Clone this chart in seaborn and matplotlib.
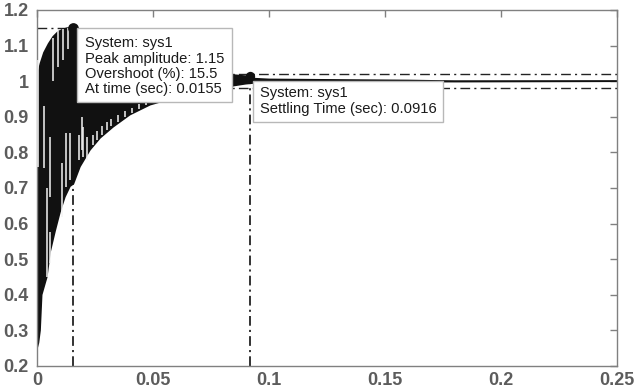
import numpy as np
import matplotlib
matplotlib.use("Agg")
import matplotlib.pyplot as plt
import pandas as pd
import seaborn as sns
from matplotlib.patches import Rectangle

# Upper and lower envelope of the oscillating step response (time in s)
upper_t = [0.0, 0.0004, 0.0015, 0.003, 0.005, 0.007, 0.009, 0.011, 0.013, 0.0155,
           0.017, 0.020, 0.030, 0.045, 0.060, 0.075, 0.085, 0.090, 0.0916, 0.094,
           0.100, 0.120, 0.160, 0.180, 0.250]
upper_v = [0.26, 1.02, 1.05, 1.08, 1.105, 1.125, 1.138, 1.145, 1.149, 1.15,
           1.148, 1.13, 1.09, 1.05, 1.03, 1.02, 1.017, 1.014, 1.017, 1.007,
           1.005, 1.004, 1.002, 1.0, 1.0]
lower_t = [0.0, 0.0006, 0.0013, 0.0020, 0.0042, 0.0056, 0.0078, 0.0099, 0.0120, 0.0142,
           0.0157, 0.0185, 0.0228, 0.0272, 0.0328, 0.0400, 0.0487, 0.060, 0.070, 0.080,
           0.085, 0.090, 0.095, 0.120, 0.250]
lower_v = [0.25, 0.265, 0.30, 0.40, 0.45, 0.52, 0.58, 0.633, 0.675, 0.705,
           0.712, 0.76, 0.807, 0.841, 0.872, 0.906, 0.934, 0.955, 0.97, 0.98,
           0.988, 0.993, 0.996, 0.998, 1.0]

# Gaps between the individual oscillation strokes
gap_t = [0.0006, 0.0031, 0.0042, 0.0056, 0.0056, 0.0070, 0.0092, 0.0106, 0.0113, 0.0124,
         0.0135, 0.0142, 0.0182, 0.0193, 0.0200, 0.0214, 0.0240, 0.0260, 0.0280, 0.0300,
         0.0320, 0.0350, 0.0380, 0.0410, 0.0440, 0.0470]
gap_top = [1.06, 0.93, 0.70, 0.577, 0.844, 1.12, 1.14, 0.771, 1.148, 0.855,
           1.15, 0.855, 0.85, 0.90, 0.872, 0.844, 0.85, 0.86, 0.875, 0.885,
           0.895, 0.905, 0.915, 0.925, 0.935, 0.945]
gap_bottom = [0.76, 0.757, 0.45, 0.49, 0.675, 1.00, 1.04, 0.619, 1.06, 0.703,
              1.09, 0.723, 0.779, 0.807, 0.788, 0.78, 0.82, 0.835, 0.85, 0.862,
              0.873, 0.885, 0.90, 0.912, 0.922, 0.934]

# Step-response characteristics
system_name = "sys1"
peak_amp = 1.15
overshoot = 15.5
peak_time = 0.0155
settling_time = 0.0916
settling_value = 1.015
settle_band = [0.98, 1.02]

x_ticks = [0, 0.05, 0.1, 0.15, 0.2, 0.25]
x_tick_labels = ["0", "0.05", "0.1", "0.15", "0.2", "0.25"]
y_ticks = [0.2, 0.3, 0.4, 0.5, 0.6, 0.7, 0.8, 0.9, 1.0, 1.1, 1.2]
y_tick_labels = ["0.2", "0.3", "0.4", "0.5", "0.6", "0.7", "0.8", "0.9", "1", "1.1", "1.2"]

sns.set_theme(style="white")
plt.rcParams["font.family"] = ["Liberation Sans", "DejaVu Sans"]
plt.rcParams["lines.scale_dashes"] = False

W, H = 634, 391
fig = plt.figure(figsize=(W / 100, H / 100), dpi=100)
ax = fig.add_axes([37 / W, 1 - 366 / H, 580 / W, 356 / H])
ax.set_xlim(0, 0.25)
ax.set_ylim(0.2, 1.2)

dashdot = (0, (7, 3, 1.5, 3))
ink = "#111111"

# settling band and characteristic guide lines
for level in settle_band:
    ax.plot([0, 0.25], [level, level], color="#222222", lw=1.0, ls=dashdot, zorder=1)
ax.plot([0, peak_time], [peak_amp, peak_amp], color="#222222", lw=1.0, ls=dashdot, zorder=1)
ax.plot([peak_time, peak_time], [0.2, peak_amp], color="#222222", lw=1.3, ls=dashdot, zorder=1)
ax.plot([settling_time, settling_time], [0.2, 1.0], color="#222222", lw=1.3, ls=dashdot, zorder=1)

# dense oscillation filled between its envelopes
poly_t = upper_t + lower_t[::-1]
poly_v = upper_v + lower_v[::-1]
ax.fill(poly_t, poly_v, color=ink, lw=0, zorder=2)
env = pd.concat([
    pd.DataFrame({"t": upper_t, "v": upper_v, "edge": "upper"}),
    pd.DataFrame({"t": lower_t, "v": lower_v, "edge": "lower"}),
])
sns.lineplot(data=env, x="t", y="v", units="edge", estimator=None, sort=False,
             color=ink, lw=1.2, ax=ax, zorder=2, legend=False)
ax.vlines(gap_t, gap_bottom, gap_top, colors="#f4f4f4", lw=1.1, zorder=3)

# characteristic markers
ax.scatter([peak_time], [peak_amp], s=60, color=ink, zorder=4, lw=0)
ax.scatter([settling_time], [settling_value], s=45, color=ink, zorder=4, lw=0)

# data tips
def data_tip(x0, x1, y0, y1, tx, rows, line_y):
    ax.add_patch(Rectangle((x0, y0), x1 - x0, y1 - y0, facecolor="white",
                           edgecolor="#b8b8b8", lw=1.0, zorder=5))
    for txt, yy in zip(rows, line_y):
        ax.text(tx, yy, txt, ha="left", va="center", fontsize=10.6,
                color="#1a1a1a", zorder=6)

data_tip(0.01724, 0.08405, 0.9424, 1.1505, 0.0207,
         [f"System: {system_name}", f"Peak amplitude: {peak_amp:g}",
          f"Overshoot (%): {overshoot:g}", f"At time (sec): {peak_time:g}"],
         [1.108, 1.063, 1.021, 0.979])
data_tip(0.0931, 0.1750, 0.886, 1.0015, 0.0961,
         [f"System: {system_name}", f"Settling Time (sec): {settling_time:g}"],
         [0.968, 0.923])

# axes styling
ax.set_xticks(x_ticks)
ax.set_xticklabels(x_tick_labels)
ax.set_yticks(y_ticks)
ax.set_yticklabels(y_tick_labels)
ax.set_xlabel("")
ax.set_ylabel("")
ax.tick_params(direction="in", length=5, width=1, color="#808080",
               top=True, right=True, labelsize=13, labelcolor="#5c5c5c")
ax.tick_params(axis="x", pad=4)
ax.tick_params(axis="y", pad=6)
for lab in ax.get_xticklabels() + ax.get_yticklabels():
    lab.set_fontweight("bold")
for sp in ax.spines.values():
    sp.set_color("#808080")
    sp.set_linewidth(1.0)
ax.grid(False)

fig.savefig("out.png", dpi=100, facecolor="white")
